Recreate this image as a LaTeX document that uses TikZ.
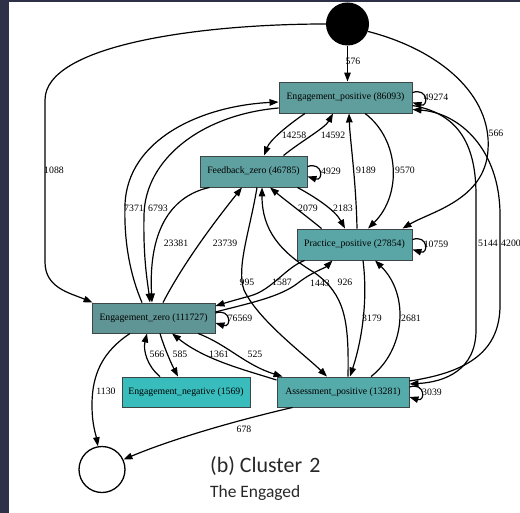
\documentclass[tikz,border=0pt]{standalone}
\usepackage{fontspec}
\setmainfont{Liberation Serif}
\newfontfamily\capfont{Carlito}
\usetikzlibrary{arrows.meta,calc}

\definecolor{framedark}{RGB}{46,48,72}
\definecolor{boxline}{RGB}{60,70,70}
\definecolor{fillEP}{RGB}{95,158,156}
\definecolor{fillFZ}{RGB}{95,160,160}
\definecolor{fillPP}{RGB}{90,166,166}
\definecolor{fillEZ}{RGB}{95,149,148}
\definecolor{fillEN}{RGB}{56,188,188}
\definecolor{fillAP}{RGB}{85,170,170}
\definecolor{captext}{RGB}{40,40,40}

\tikzset{
  stbox/.style={draw=boxline, line width=0.9bp, inner sep=0pt, text=black,
    font=\fontsize{9.8}{11}\selectfont},
  conn/.style={line width=1.2bp, -{Triangle[length=9bp,width=6.5bp]}},
  elab/.style={inner sep=0pt, text=black, font=\fontsize{9.8}{11}\selectfont},
  selfloop/.style={conn},
}

\begin{document}
\begin{tikzpicture}[x=1bp,y=-1bp]
  % page and frame strips
  \path[use as bounding box, fill=white] (0,0) rectangle (520,513);
  \fill[framedark] (0,0) rectangle (9,513);
  \fill[framedark] (0,0) rectangle (520,2);

  % start / end states
  \node[circle, fill=black, minimum size=43bp, inner sep=0pt] (S) at (347.5,24) {};
  \node[circle, draw=black, line width=1.3bp, minimum size=46bp, inner sep=0pt] (E) at (102,469.5) {};

  % activity states
  \node[stbox, fill=fillEP, minimum width=133bp, minimum height=31bp] (EP) at (345.5,97.5) {Engagement\_positive (86093)};
  \node[stbox, fill=fillFZ, minimum width=107bp, minimum height=31bp] (FZ) at (253.5,171.5) {Feedback\_zero (46785)};
  \node[stbox, fill=fillPP, minimum width=115bp, minimum height=31bp] (PP) at (354.5,244.5) {Practice\_positive (27854)};
  \node[stbox, fill=fillEZ, minimum width=123bp, minimum height=30bp] (EZ) at (153.5,318) {Engagement\_zero (111727)};
  \node[stbox, fill=fillEN, minimum width=128bp, minimum height=30bp] (EN) at (186,392) {Engagement\_negative (1569)};
  \node[stbox, fill=fillAP, minimum width=132bp, minimum height=30bp] (AP) at (343,392) {Assessment\_positive (13281)};

  % transitions out of the start state
  \draw[conn] (S.south) -- (S.south |- EP.north);
  \node[elab] (l576) at (353,61) {576};
  \draw[conn] (S.west) .. controls (200,24) and (45,45) .. (45,100) -- (45,262)
     .. controls (45,288) and (70,293) .. ($(EZ.north west)+(1,0)$);
  \node[elab] (l1088) at (54,170) {1088};
  \draw[conn] (S.-20) .. controls (440,50) and (492,95) .. (488,150)
     .. controls (485,200) and (430,212) .. ($(PP.north east)+(-10,0)$);
  \node[elab] (l566a) at (496,133) {566};

  % self loops
  \foreach \n/\t/\lx in {EP/49274/436, FZ/4929/331, PP/10759/436, EZ/76569/240, AP/3039/432}{
    \draw[selfloop] ([yshift=5bp]\n.east) .. controls +(16,-5) and +(16,5) .. ([yshift=-5bp]\n.east);
    \node[elab] (l\t) at (\lx,0 |- \n.east) {\t};
  }

  % Engagement_positive <-> Feedback_zero
  \draw[conn] ($(EP.south)+(-40.5,0)$) .. controls (288,125) and (270,140) .. ($(FZ.north)+(10.5,0)$);
  \node[elab] (l14258) at (294,135) {14258};
  \draw[conn] ($(FZ.north)+(30,0)$) .. controls (300,142) and (325,128) .. ($(EP.south)+(-12.5,0)$);
  \node[elab] (l14592) at (333,135) {14592};

  % Engagement_positive <-> Practice_positive
  \draw[conn] ($(PP.north)+(2.5,0)$) .. controls (356,180) and (350,140) .. ($(EP.south)+(3.5,0)$);
  \node[elab] (l9189) at (366,170) {9189};
  \draw[conn] ($(EP.south)+(19.5,0)$) .. controls (400,140) and (402,195) .. ($(PP.north)+(13.5,0)$);
  \node[elab] (l9570) at (405,170) {9570};

  % Feedback_zero <-> Practice_positive
  \draw[conn] ($(FZ.south east)+(-10,0)$) .. controls (315,197) and (335,210) .. ($(PP.north)+(-9.5,0)$);
  \node[elab] (l2183) at (343,208) {2183};
  \draw[conn] ($(PP.north west)+(25,0)$) .. controls (305,215) and (285,200) .. ($(FZ.south)+(16.5,0)$);
  \node[elab] (l2079) at (308,208) {2079};

  % Engagement_zero <-> Engagement_positive
  \draw[conn] ($(EZ.north)+(-11.5,0)$) .. controls (128,270) and (124,235) .. (125,205)
     .. controls (127,140) and (200,106) .. ($(EP.west)+(0,4.5)$);
  \node[elab] (l7371) at (134,208) {7371};
  \draw[conn] ($(EP.west)+(0,10.5)$) .. controls (200,115) and (145,160) .. (144,215)
     .. controls (143,260) and (148,285) .. ($(EZ.north)+(-3.5,0)$);
  \node[elab] (l6793) at (158,208) {6793};

  % Feedback_zero <-> Engagement_zero
  \draw[conn] ($(FZ.south west)+(10,0)$) .. controls (175,195) and (148,225) .. ($(EZ.north)+(-1.5,0)$);
  \node[elab] (l23381) at (176,243) {23381};
  \draw[conn] ($(EZ.north)+(9.5,0)$) .. controls (185,260) and (220,215) .. ($(FZ.south)+(-11.5,0)$);
  \node[elab] (l23739) at (225,243) {23739};

  % Feedback_zero <-> Assessment_positive
  \draw[conn] ($(FZ.south)+(3.5,0)$) .. controls (250,230) and (236,268) .. (244,290)
     .. controls (258,320) and (305,355) .. ($(AP.north)+(-16,0)$);
  \node[elab] (l995) at (247,282) {995};
  \draw[conn] ($(AP.north)+(5,0)$) .. controls (349,320) and (345,295) .. (315,273)
     .. controls (280,252) and (262,230) .. ($(FZ.south)+(8.5,0)$);
  \node[elab] (l926) at (345,282) {926};

  % Practice_positive <-> Engagement_zero
  \draw[conn] ($(PP.south west)+(8,0)$) .. controls (285,268) and (272,290) .. (250,296)
     .. controls (235,300) and (225,303) .. ($(EZ.east)+(0,-12)$);
  \node[elab] (l1587) at (282,282) {1587};
  \draw[conn] ($(EZ.east)+(0,-6)$) .. controls (250,303) and (280,297) .. (298,283)
     .. controls (312,272) and (325,268) .. ($(PP.south)+(-22,0)$);
  \node[elab] (l1443) at (320,283) {1443};

  % Practice_positive <-> Assessment_positive
  \draw[conn] ($(PP.south)+(8.5,0)$) .. controls (368,300) and (362,340) .. ($(AP.north)+(7,0)$);
  \node[elab] (l3179) at (372,318) {3179};
  \draw[conn] ($(AP.north)+(28,0)$) .. controls (405,350) and (410,295) .. ($(PP.south)+(20.5,0)$);
  \node[elab] (l2681) at (411,318) {2681};

  % Engagement_positive <-> Assessment_positive (outer routes)
  \draw[conn] ($(EP.east)+(0,8)$) .. controls (455,113) and (476,140) .. (476,195) -- (476,330)
     .. controls (476,370) and (445,382) .. ($(AP.east)+(0,-8)$);
  \node[elab] (l5144) at (488,243) {5144};
  \draw[conn] ($(AP.east)+(0,-11)$) .. controls (470,372) and (500,350) .. (500,305) -- (500,215)
     .. controls (500,150) and (460,113) .. ($(EP.east)+(0,12)$);
  \node[elab] (l4200) at (511,243) {4200};

  % Engagement_zero <-> Engagement_negative
  \draw[conn] ($(EZ.south)+(6.5,0)$) .. controls (165,350) and (172,365) .. ($(EN.north)+(-8,0)$);
  \node[elab] (l585) at (180,354) {585};
  \draw[conn] ($(EN.north)+(-26,0)$) .. controls (147,366) and (143,350) .. ($(EZ.south)+(-6.5,0)$);
  \node[elab] (l566b) at (157,354) {566};

  % Engagement_zero <-> Assessment_positive
  \draw[conn] ($(AP.west)+(0,-12)$) .. controls (245,370) and (205,360) .. ($(EZ.south)+(18.5,0)$);
  \node[elab] (l1361) at (219,354) {1361};
  \draw[conn] ($(EZ.south)+(44.5,0)$) .. controls (228,345) and (245,365) .. ($(AP.north west)+(6,0)$);
  \node[elab] (l525) at (255,354) {525};

  % transitions into the end state
  \draw[conn] ($(EZ.south)+(-23.5,0)$) .. controls (102,352) and (92,375) .. (92,405)
     .. controls (92,425) and (96,435) .. (E.100);
  \node[elab] (l1130) at (106,391) {1130};
  \draw[conn] ($(AP.south west)+(16,0)$) .. controls (230,422) and (170,440) .. (E.25);
  \node[elab] (l678) at (244,429) {678};

  % caption
  \node[anchor=base west, inner sep=0pt, text=captext, font=\capfont\fontsize{22}{26}\selectfont] (cap1) at (210,472) {(b) Cluster\,\,2};
  \node[anchor=base west, inner sep=0pt, text=captext, font=\capfont\fontsize{17.5}{21}\selectfont] (cap2) at (210,497) {The Engaged};
\end{tikzpicture}
\end{document}
